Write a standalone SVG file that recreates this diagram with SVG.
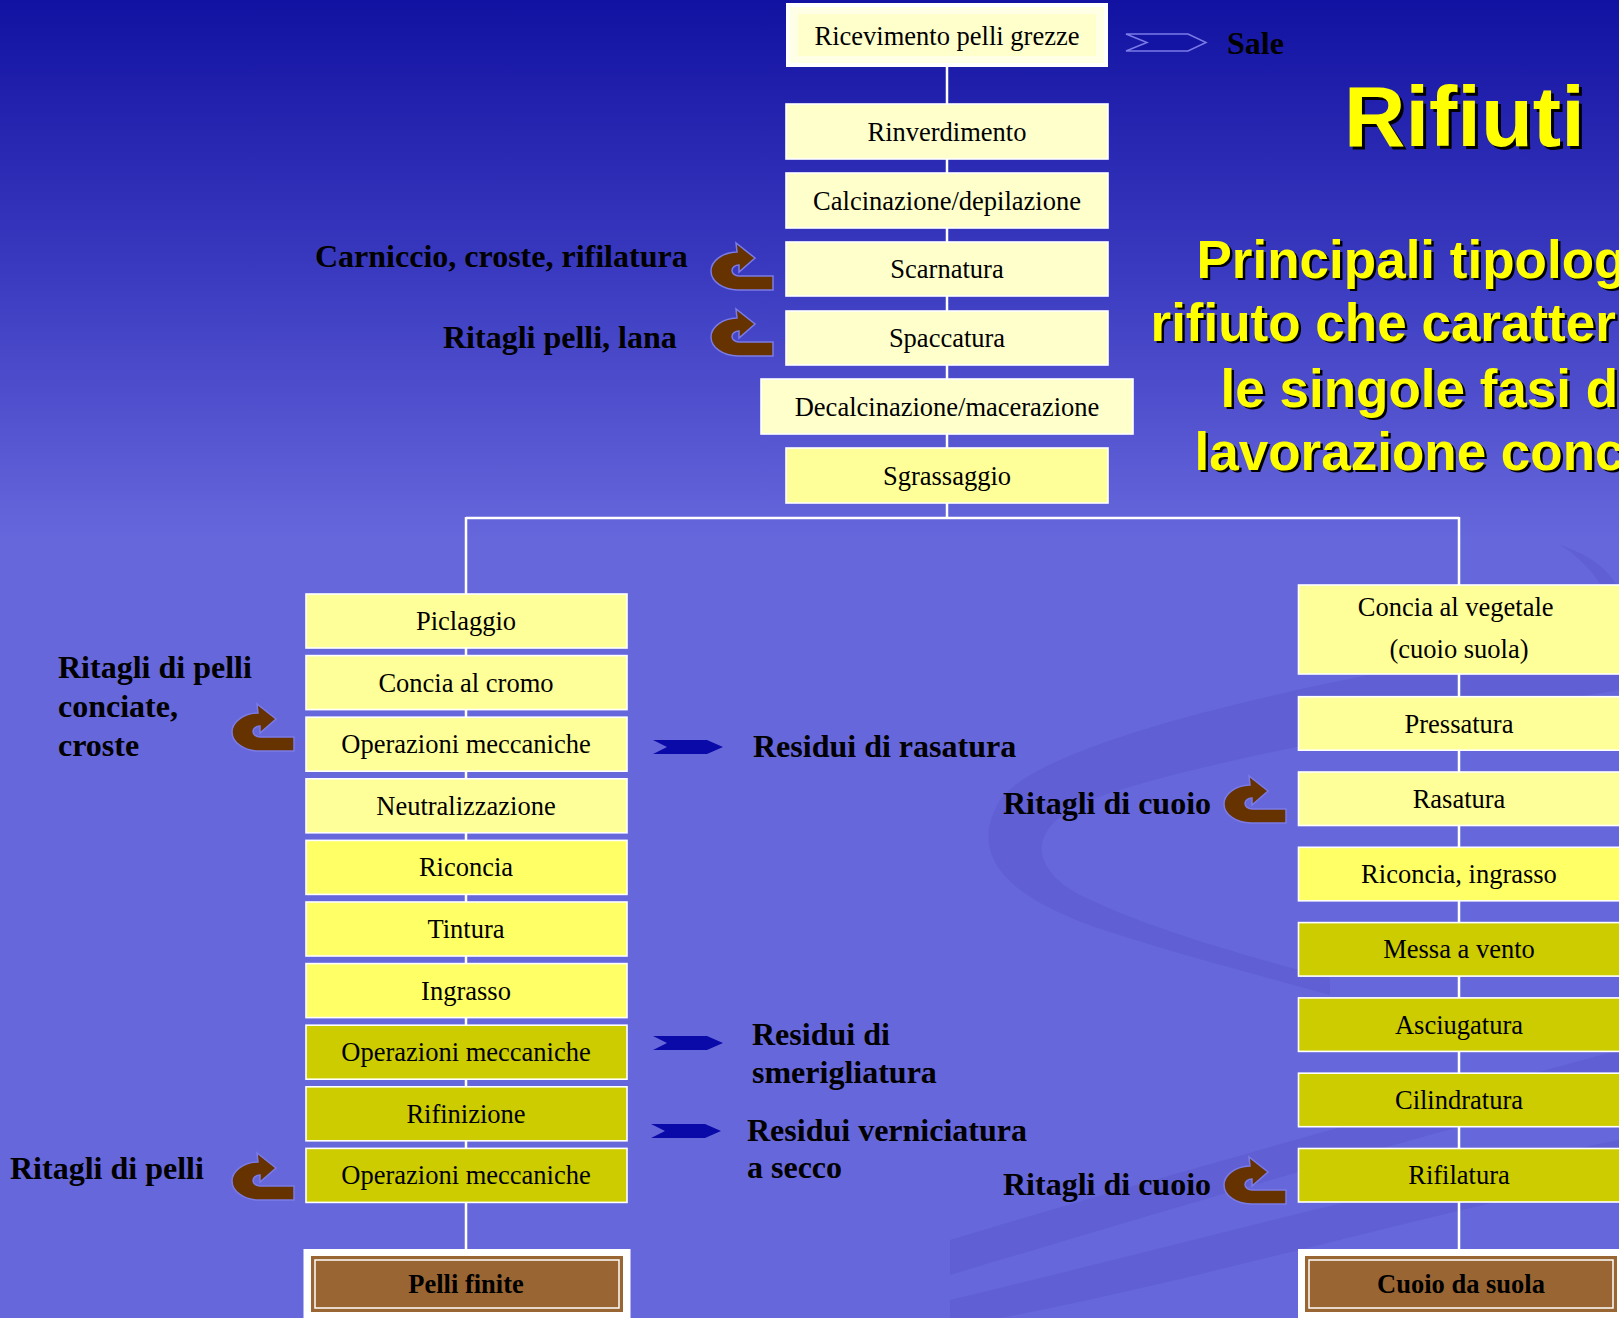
<svg xmlns="http://www.w3.org/2000/svg" xmlns:xlink="http://www.w3.org/1999/xlink" width="1619" height="1318" viewBox="0 0 1619 1318">
  <defs>
    <linearGradient id="bg" x1="0" y1="0" x2="0" y2="540" gradientUnits="userSpaceOnUse">
      <stop offset="0" stop-color="#1212a2"/>
      <stop offset="0.5" stop-color="#3a3ac0"/>
      <stop offset="1" stop-color="#6767dc"/>
    </linearGradient>
    <!-- brown U-turn arrow used beside the process steps -->
    <path id="uturn" d="M63,33 L63,47 L28,47 A27,19 0 0 1 1,28 A27,19 0 0 1 27,9 L26,0 L45,15 L29,29 L29,22 A7,5.5 0 0 0 29,33 Z"/>
    <!-- blue dart pointing at a residue label -->
    <path id="dart" d="M0,0 L54,0 L70,7 L54,14 L0,14 L14,7 Z"/>
  </defs>
  <style>
    .box { stroke: #ffffff; stroke-width: 1.6; }
    .pale { fill: #ffffcc; }
    .light { fill: #ffff99; }
    .mid { fill: #ffff66; }
    .dark { fill: #cccc00; }
    .step { font-family: "Liberation Serif", "Times New Roman", serif; font-size: 26.5px; fill: #000000; text-anchor: middle; }
    .label { font-family: "Liberation Serif", "Times New Roman", serif; font-size: 32px; font-weight: bold; fill: #000000; }
    .final { font-family: "Liberation Serif", "Times New Roman", serif; font-size: 26.5px; font-weight: bold; fill: #000000; text-anchor: middle; }
    .title { font-family: "Liberation Sans", Arial, sans-serif; font-weight: bold; }
    .uturn { fill: #663300; stroke: #7b7be6; stroke-width: 1.5; }
    .dart { fill: #0a0aa8; }
    .wire { stroke: #ffffff; stroke-width: 2.5; fill: none; }
    .swoosh { fill: #3c3cae; opacity: 0.16; }
  </style>

  <!-- background -->
  <rect x="0" y="0" width="1619" height="1318" fill="url(#bg)"/>
  <g id="swooshes">
    <path class="swoosh" d="M1619,630 C1400,665 1050,730 1000,800 C970,850 995,895 1110,932 C1190,958 1260,975 1330,995 L1330,978 C1240,955 1140,925 1080,895 C1025,865 1030,825 1090,800 C1200,760 1420,722 1619,690 Z"/>
    <path class="swoosh" d="M1560,545 C1600,570 1619,610 1619,640 L1619,590 C1610,570 1590,555 1560,545 Z"/>
    <path class="swoosh" d="M950,1240 C1150,1180 1400,1110 1619,1050 L1619,1085 C1400,1140 1150,1215 950,1275 Z"/>
    <path class="swoosh" d="M950,1300 C1200,1240 1420,1180 1619,1140 L1619,1175 C1420,1215 1200,1280 1000,1318 L950,1318 Z"/>
  </g>

  <!-- connectors -->
  <g id="connectors">
    <line class="wire" x1="947" y1="67" x2="947" y2="518"/>
    <line class="wire" x1="466" y1="518" x2="1459" y2="518"/>
    <line class="wire" x1="466" y1="517" x2="466" y2="1250"/>
    <line class="wire" x1="1459" y1="517" x2="1459" y2="1250"/>
  </g>

  <!-- title -->
  <g id="title" class="title">
    <text x="1347" y="149" font-size="85" fill="#000000">Rifiuti</text>
    <text x="1344" y="146" font-size="85" fill="#ffff00">Rifiuti</text>
    <g font-size="53">
      <text x="1199" y="280" fill="#000000">Principali tipolog</text>
      <text x="1196.5" y="277.5" fill="#ffff00">Principali tipolog</text>
      <text x="1153" y="343" fill="#000000">rifiuto che caratter</text>
      <text x="1150.5" y="340.5" fill="#ffff00">rifiuto che caratter</text>
      <text x="1223" y="409" fill="#000000">le singole fasi d</text>
      <text x="1220.5" y="406.5" fill="#ffff00">le singole fasi d</text>
      <text x="1197" y="472" fill="#000000">lavorazione conc</text>
      <text x="1194.5" y="469.5" fill="#ffff00">lavorazione conc</text>
    </g>
  </g>

  <!-- main trunk -->
  <g id="ricevimento">
    <rect x="786" y="3" width="322" height="64" fill="#ffffff"/>
    <rect x="790" y="7" width="314" height="56" fill="#ffffe6"/>
    <rect x="798" y="14" width="298" height="42" class="pale"/>
    <text class="step" x="947" y="45">Ricevimento pelli grezze</text>
  </g>
  <g id="sale">
    <polygon points="1126,34 1188,34 1206,42.5 1188,51 1126,51 1147,42.5" fill="#1414a4" stroke="#7b7be8" stroke-width="1.5"/>
    <text class="label" x="1227" y="54" font-size="30">Sale</text>
  </g>
  <g id="rinverdimento">
    <rect class="box pale" x="786" y="104" width="322" height="55"/>
    <text class="step" x="947" y="141">Rinverdimento</text>
  </g>
  <g id="calcinazione">
    <rect class="box pale" x="786" y="173" width="322" height="55"/>
    <text class="step" x="947" y="210">Calcinazione/depilazione</text>
  </g>
  <g id="scarnatura">
    <rect class="box pale" x="786" y="242" width="322" height="54"/>
    <text class="step" x="947" y="278">Scarnatura</text>
  </g>
  <g id="spaccatura">
    <rect class="box pale" x="786" y="311" width="322" height="54"/>
    <text class="step" x="947" y="347">Spaccatura</text>
  </g>
  <g id="decalcinazione">
    <rect class="box pale" x="761" y="379" width="372" height="55"/>
    <text class="step" x="947" y="416">Decalcinazione/macerazione</text>
  </g>
  <g id="sgrassaggio">
    <rect class="box light" x="786" y="448" width="322" height="55"/>
    <text class="step" x="947" y="485">Sgrassaggio</text>
  </g>
  <g id="waste-scarnatura">
    <use xlink:href="#uturn" href="#uturn" class="uturn" x="710" y="243"/>
    <text class="label" x="315" y="267">Carniccio, croste, rifilatura</text>
  </g>
  <g id="waste-spaccatura">
    <use xlink:href="#uturn" href="#uturn" class="uturn" x="710" y="309"/>
    <text class="label" x="443" y="348">Ritagli pelli, lana</text>
  </g>

  <!-- chrome tanning branch -->
  <g id="piclaggio">
    <rect class="box light" x="306" y="594" width="321" height="54"/>
    <text class="step" x="466" y="630">Piclaggio</text>
  </g>
  <g id="concia-cromo">
    <rect class="box light" x="306" y="655.6" width="321" height="54"/>
    <text class="step" x="466" y="691.6">Concia al cromo</text>
  </g>
  <g id="operazioni-1">
    <rect class="box light" x="306" y="717.2" width="321" height="54"/>
    <text class="step" x="466" y="753.2">Operazioni meccaniche</text>
  </g>
  <g id="neutralizzazione">
    <rect class="box light" x="306" y="778.8" width="321" height="54"/>
    <text class="step" x="466" y="814.8">Neutralizzazione</text>
  </g>
  <g id="riconcia">
    <rect class="box mid" x="306" y="840.4" width="321" height="54"/>
    <text class="step" x="466" y="876.4">Riconcia</text>
  </g>
  <g id="tintura">
    <rect class="box mid" x="306" y="902" width="321" height="54"/>
    <text class="step" x="466" y="938">Tintura</text>
  </g>
  <g id="ingrasso">
    <rect class="box mid" x="306" y="963.6" width="321" height="54"/>
    <text class="step" x="466" y="999.6">Ingrasso</text>
  </g>
  <g id="operazioni-2">
    <rect class="box dark" x="306" y="1025.2" width="321" height="54"/>
    <text class="step" x="466" y="1061.2">Operazioni meccaniche</text>
  </g>
  <g id="rifinizione">
    <rect class="box dark" x="306" y="1086.8" width="321" height="54"/>
    <text class="step" x="466" y="1122.8">Rifinizione</text>
  </g>
  <g id="operazioni-3">
    <rect class="box dark" x="306" y="1148.4" width="321" height="54"/>
    <text class="step" x="466" y="1184.4">Operazioni meccaniche</text>
  </g>
  <g id="pelli-finite">
    <rect x="303.5" y="1249" width="327" height="80" fill="#ffffff"/>
    <rect x="311" y="1256" width="312" height="56" fill="#996633"/>
    <rect x="315" y="1260" width="304" height="48" fill="none" stroke="#ffffff" stroke-width="1.5"/>
    <text class="final" x="466" y="1293">Pelli finite</text>
  </g>
  <g id="waste-conciate">
    <use xlink:href="#uturn" href="#uturn" class="uturn" x="231" y="704"/>
    <text class="label" x="58">
      <tspan x="58" y="678">Ritagli di pelli</tspan>
      <tspan x="58" y="717">conciate,</tspan>
      <tspan x="58" y="756">croste</tspan>
    </text>
  </g>
  <g id="waste-rasatura">
    <use xlink:href="#dart" href="#dart" class="dart" x="653" y="740"/>
    <text class="label" x="753" y="757">Residui di rasatura</text>
  </g>
  <g id="waste-smerigliatura">
    <use xlink:href="#dart" href="#dart" class="dart" x="653" y="1036"/>
    <text class="label">
      <tspan x="752" y="1045">Residui di</tspan>
      <tspan x="752" y="1083">smerigliatura</tspan>
    </text>
  </g>
  <g id="waste-verniciatura">
    <use xlink:href="#dart" href="#dart" class="dart" x="651" y="1124"/>
    <text class="label">
      <tspan x="747" y="1141">Residui verniciatura</tspan>
      <tspan x="747" y="1178">a secco</tspan>
    </text>
  </g>
  <g id="waste-pelli">
    <use xlink:href="#uturn" href="#uturn" class="uturn" x="231" y="1153"/>
    <text class="label" x="10" y="1179">Ritagli di pelli</text>
  </g>

  <!-- vegetable tanning branch -->
  <g id="concia-vegetale">
    <rect class="box light" x="1298.5" y="585" width="322" height="89"/>
    <text class="step">
      <tspan x="1459" y="616">Concia al vegetale</tspan>
      <tspan x="1459" y="657.5">(cuoio suola)</tspan>
    </text>
  </g>
  <g id="pressatura">
    <rect class="box light" x="1298.5" y="696.7" width="322" height="53.5"/>
    <text class="step" x="1459" y="732.5">Pressatura</text>
  </g>
  <g id="rasatura">
    <rect class="box light" x="1298.5" y="772" width="322" height="53.5"/>
    <text class="step" x="1459" y="807.8">Rasatura</text>
  </g>
  <g id="riconcia-ingrasso">
    <rect class="box mid" x="1298.5" y="847.3" width="322" height="53.5"/>
    <text class="step" x="1459" y="883">Riconcia, ingrasso</text>
  </g>
  <g id="messa-a-vento">
    <rect class="box dark" x="1298.5" y="922.6" width="322" height="53.5"/>
    <text class="step" x="1459" y="958.4">Messa a vento</text>
  </g>
  <g id="asciugatura">
    <rect class="box dark" x="1298.5" y="997.9" width="322" height="53.5"/>
    <text class="step" x="1459" y="1033.7">Asciugatura</text>
  </g>
  <g id="cilindratura">
    <rect class="box dark" x="1298.5" y="1073.2" width="322" height="53.5"/>
    <text class="step" x="1459" y="1109">Cilindratura</text>
  </g>
  <g id="rifilatura">
    <rect class="box dark" x="1298.5" y="1148.5" width="322" height="53.5"/>
    <text class="step" x="1459" y="1184.3">Rifilatura</text>
  </g>
  <g id="cuoio-da-suola">
    <rect x="1298" y="1249" width="330" height="80" fill="#ffffff"/>
    <rect x="1305" y="1256" width="312" height="56" fill="#996633"/>
    <rect x="1309" y="1260" width="304" height="48" fill="none" stroke="#ffffff" stroke-width="1.5"/>
    <text class="final" x="1461" y="1293">Cuoio da suola</text>
  </g>
  <g id="waste-cuoio-1">
    <use xlink:href="#uturn" href="#uturn" class="uturn" x="1223" y="776"/>
    <text class="label" x="1003" y="814">Ritagli di cuoio</text>
  </g>
  <g id="waste-cuoio-2">
    <use xlink:href="#uturn" href="#uturn" class="uturn" x="1223" y="1157"/>
    <text class="label" x="1003" y="1195">Ritagli di cuoio</text>
  </g>
</svg>
